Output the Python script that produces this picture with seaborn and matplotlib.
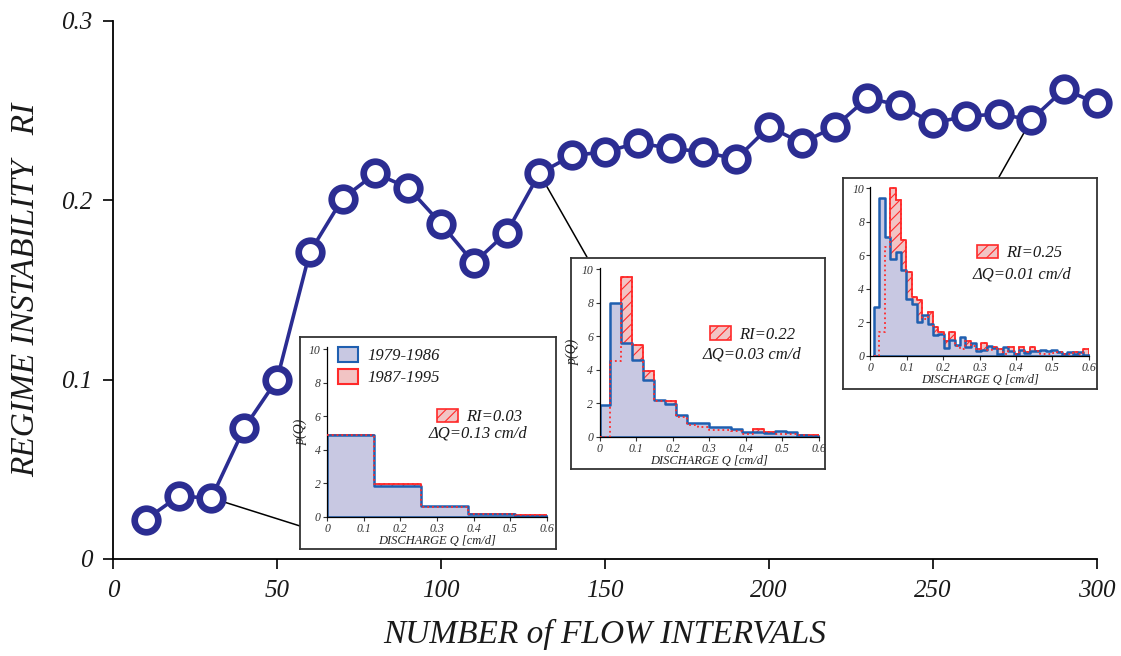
import numpy as np
import pandas as pd
import matplotlib
matplotlib.use("Agg")
import matplotlib.pyplot as plt
import seaborn as sns
from matplotlib.patches import Patch, ConnectionPatch
from matplotlib.ticker import FuncFormatter

# main curve: regime instability vs number of flow intervals
n_intervals = [10, 20, 30, 40, 50, 60, 70, 80, 90, 100,
               110, 120, 130, 140, 150, 160, 170, 180, 190, 200,
               210, 220, 230, 240, 250, 260, 270, 280, 290, 300]
ri_values = [0.022, 0.035, 0.034, 0.073, 0.100, 0.171, 0.201, 0.215, 0.207, 0.187,
             0.165, 0.182, 0.215, 0.225, 0.227, 0.232, 0.229, 0.227, 0.223, 0.241,
             0.232, 0.241, 0.257, 0.253, 0.243, 0.247, 0.248, 0.245, 0.262, 0.254]

# inset A : dQ = 0.13
edges_a = [0.0, 0.128, 0.256, 0.384, 0.512, 0.6]
blue_a = [4.9, 1.85, 0.65, 0.18, 0.06]
red_a = [4.85, 1.95, 0.55, 0.15, 0.12]

# inset B : dQ = 0.03
edges_b = np.round(np.arange(0, 0.601, 0.03), 3)
blue_b = [1.9, 8.0, 5.6, 4.6, 3.35, 2.2, 1.95, 1.27, 0.82, 0.8,
          0.55, 0.55, 0.45, 0.3, 0.3, 0.2, 0.35, 0.25, 0.12, 0.05]
red_b = [0.0, 4.5, 9.55, 5.5, 3.9, 2.1, 2.1, 1.17, 0.7, 0.55,
         0.4, 0.4, 0.35, 0.15, 0.47, 0.25, 0.15, 0.15, 0.1, 0.08]

# inset C : dQ = 0.01
edges_c = np.round(0.01 + 0.01475 * np.arange(41), 4)
blue_c = [2.9, 9.4, 7.1, 5.8, 6.2, 5.1, 3.4, 3.1, 2.0, 2.4,
          1.9, 1.2, 1.3, 0.45, 0.95, 0.65, 1.1, 0.5, 0.75, 0.25,
          0.35, 0.6, 0.45, 0.1, 0.5, 0.3, 0.1, 0.35, 0.15, 0.3,
          0.3, 0.35, 0.3, 0.35, 0.2, 0.1, 0.2, 0.1, 0.2, 0.05]
red_c = [0.0, 1.4, 6.5, 10.0, 9.3, 6.9, 5.0, 3.5, 3.3, 2.2,
         2.6, 1.7, 1.4, 0.9, 1.4, 0.6, 0.4, 0.9, 0.6, 0.4,
         0.75, 0.35, 0.5, 0.4, 0.1, 0.5, 0.1, 0.5, 0.2, 0.5,
         0.25, 0.1, 0.1, 0.15, 0.2, 0.1, 0.1, 0.2, 0.1, 0.4]

NAVY = "#2b2d92"
BLUE = "#1f5fb0"
LAV = "#c8c8e2"
RED = "#ff2a2a"
PINK = "#f2c4c4"
INK = "#1a1a1a"

sns.set_style("ticks")
plt.rcParams["font.family"] = ["Liberation Serif", "DejaVu Serif"]
plt.rcParams["font.style"] = "italic"
plt.rcParams["text.color"] = INK
plt.rcParams["hatch.color"] = RED
plt.rcParams["hatch.linewidth"] = 0.8

fig = plt.figure(figsize=(11.21, 6.56), dpi=100)
ax = fig.add_axes([0.1008, 0.1479, 0.8778, 0.8201])

df = pd.DataFrame({"n": n_intervals, "ri": ri_values})
sns.lineplot(data=df, x="n", y="ri", ax=ax, color=NAVY, lw=2.6,
             marker="o", markersize=17, markeredgewidth=4.8,
             markerfacecolor="white", markeredgecolor=NAVY,
             clip_on=False, zorder=5)

ax.set_xlim(0, 300)
ax.set_ylim(0, 0.3)
ax.set_xticks([0, 50, 100, 150, 200, 250, 300])
ax.set_yticks([0, 0.1, 0.2, 0.3])
ax.yaxis.set_major_formatter(FuncFormatter(lambda v, p: "0" if v == 0 else f"{v:.1f}"))
ax.tick_params(labelsize=18, length=7, width=1.2, direction="out", pad=8,
               colors="black", labelcolor=INK)
for s in ["top", "right"]:
    ax.spines[s].set_visible(False)
for s in ["left", "bottom"]:
    ax.spines[s].set_linewidth(1.3)
    ax.spines[s].set_color("black")
ax.set_xlabel("NUMBER of FLOW INTERVALS", fontsize=24, labelpad=12, color=INK)
ax.set_ylabel("REGIME INSTABILITY   RI", fontsize=24, labelpad=14, color=INK)

# connector lines from the points to the inset boxes
for (xp, yp), target in [((30, 0.034), (0.2676, 0.1982)),
                          ((130, 0.215), (0.5236, 0.6082)),
                          ((280, 0.245), (0.8912, 0.7302))]:
    cp = ConnectionPatch(xyA=(xp, yp), coordsA=ax.transData,
                         xyB=target, coordsB=fig.transFigure,
                         color="black", lw=1.1, zorder=3)
    ax.add_artist(cp)


def draw_inset(box_rect, inner_rect, edges, blue, red, ri_txt, dq_txt,
               patch_pos, dq_pos, show_ylabel=True, period_legend=False):
    box = fig.add_axes(box_rect)
    box.set_xticks([])
    box.set_yticks([])
    for s in box.spines.values():
        s.set_visible(True)
        s.set_color("#333333")
        s.set_linewidth(1.3)
    box.set_facecolor("white")

    ia = fig.add_axes(inner_rect)
    ia.set_facecolor("none")
    edges = [float(e) for e in edges]
    hist = pd.DataFrame({"q": [(a + b) / 2 for a, b in zip(edges[:-1], edges[1:])],
                         "blue": blue, "red": red})

    sns.histplot(data=hist, x="q", weights="red", bins=edges, element="step",
                 fill=True, facecolor=PINK, edgecolor=RED, hatch="///",
                 linewidth=1.3, ax=ia, zorder=1)
    sns.histplot(data=hist, x="q", weights="blue", bins=edges, element="step",
                 fill=True, facecolor=LAV, edgecolor=BLUE, linewidth=1.8,
                 ax=ia, zorder=2)
    sns.histplot(data=hist, x="q", weights="red", bins=edges, element="step",
                 fill=False, color=RED, linestyle=":", linewidth=1.3,
                 ax=ia, zorder=3)

    ia.set_xlim(0, 0.6)
    ia.set_ylim(0, 10.1)
    ia.set_xticks([0, 0.1, 0.2, 0.3, 0.4, 0.5, 0.6])
    ia.set_yticks([0, 2, 4, 6, 8, 10])
    ia.xaxis.set_major_formatter(FuncFormatter(lambda v, p: "0" if v == 0 else f"{v:.1f}"))
    ia.tick_params(labelsize=8.5, length=3, width=0.8, pad=1.5, colors="#333333")
    for s in ["top", "right"]:
        ia.spines[s].set_visible(False)
    for s in ["left", "bottom"]:
        ia.spines[s].set_linewidth(0.9)
        ia.spines[s].set_color("black")
    ia.set_xlabel("DISCHARGE Q [cm/d]", fontsize=9, labelpad=0, color="#222222")
    ia.set_ylabel("p(Q)" if show_ylabel else "", fontsize=10, labelpad=1, color="#222222")

    if period_legend:
        handles = [Patch(facecolor=LAV, edgecolor=BLUE, lw=1.5, label="1979-1986"),
                   Patch(facecolor=PINK, edgecolor=RED, lw=1.5, label="1987-1995")]
        leg = ia.legend(handles=handles, loc="upper left", bbox_to_anchor=(-0.02, 1.09),
                        frameon=False, fontsize=12, handlelength=1.25,
                        handleheight=0.95, handletextpad=0.55, labelspacing=0.3)
        ia.add_artist(leg)

    ri_handle = [Patch(facecolor=PINK, edgecolor=RED, hatch="///", lw=1.2, label=ri_txt)]
    ia.legend(handles=ri_handle, loc="center left", bbox_to_anchor=patch_pos,
              frameon=False, fontsize=12, handlelength=1.25, handleheight=0.85,
              handletextpad=0.5, borderpad=0, borderaxespad=0)
    ia.text(dq_pos[0], dq_pos[1], dq_txt, transform=ia.transAxes,
            fontsize=12, ha="center", va="center")
    return ia


draw_inset([0.2676, 0.1631, 0.2284, 0.3232], [0.2917, 0.2126, 0.1963, 0.2577],
           edges_a, blue_a, red_a, "RI=0.03", "\u0394Q=0.13 cm/d",
           (0.50, 0.59), (0.684, 0.49), show_ylabel=True, period_legend=True)
draw_inset([0.5094, 0.2851, 0.2266, 0.3216], [0.5348, 0.3345, 0.1954, 0.2577],
           edges_b, blue_b, red_b, "RI=0.22", "\u0394Q=0.03 cm/d",
           (0.505, 0.604), (0.694, 0.486), show_ylabel=True)
draw_inset([0.7520, 0.4070, 0.2266, 0.3216], [0.7765, 0.4580, 0.1947, 0.2573],
           edges_c, blue_c, red_c, "RI=0.25", "\u0394Q=0.01 cm/d",
           (0.49, 0.608), (0.693, 0.48), show_ylabel=False)

fig.savefig("out.png", dpi=100)
